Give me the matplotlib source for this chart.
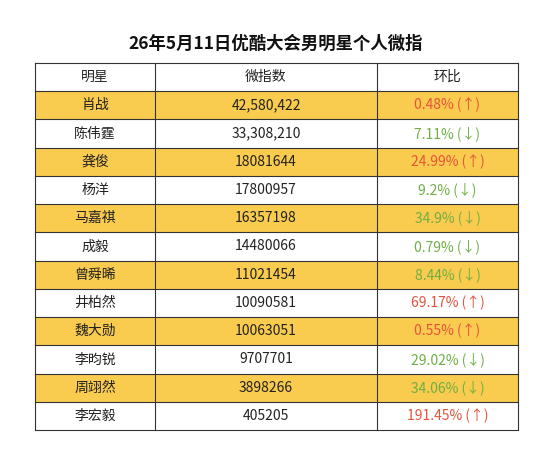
import matplotlib.pyplot as plt
from matplotlib.patches import Rectangle

plt.rcParams['font.family'] = ['Noto Sans CJK SC', 'DejaVu Sans']

names = ['肖战', '陈伟霆', '龚俊', '杨洋', '马嘉祺', '成毅', '曾舜晞', '井柏然', '魏大勋', '李昀锐', '周翊然', '李宏毅']
index_vals = ['42,580,422', '33,308,210', '18081644', '17800957', '16357198', '14480066',
              '11021454', '10090581', '10063051', '9707701', '3898266', '405205']
changes = ['0.48% (↑)', '7.11% (↓)', '24.99% (↑)', '9.2% (↓)', '34.9% (↓)', '0.79% (↓)',
           '8.44% (↓)', '69.17% (↑)', '0.55% (↑)', '29.02% (↓)', '34.06% (↓)', '191.45% (↑)']
headers = ['明星', '微指数', '环比']

W, H = 551, 455
fig = plt.figure(figsize=(W / 100, H / 100), dpi=100)
ax = fig.add_axes([0, 0, 1, 1])
ax.set_xlim(0, W)
ax.set_ylim(H, 0)
ax.axis('off')

xs = [35, 155, 377, 518]
top, bottom = 63, 430
n = len(names) + 1
rh = (bottom - top) / n
yellow = '#F9CB4E'
red = '#E5533C'
green = '#6FAE45'

ax.text(W / 2, 44, '26年5月11日优酷大会男明星个人微指', ha='center', va='center',
        fontsize=12.5, fontweight='bold', color='#111111')

for r in range(n):
    y = top + r * rh
    if r % 2 == 1:
        ax.add_patch(Rectangle((xs[0], y), xs[-1] - xs[0], rh, color=yellow, lw=0))
    if r == 0:
        cells = headers
        colors = ['#222222'] * 3
    else:
        i = r - 1
        cells = [names[i], index_vals[i], changes[i]]
        colors = ['#222222', '#222222', red if '↑' in changes[i] else green]
    for c in range(3):
        ax.text((xs[c] + xs[c + 1]) / 2, y + rh / 2, cells[c], ha='center', va='center',
                fontsize=10, color=colors[c])

for r in range(n + 1):
    y = top + r * rh
    ax.plot([xs[0], xs[-1]], [y, y], color='#333333', lw=0.8)
for x in xs:
    ax.plot([x, x], [top, bottom], color='#333333', lw=0.8)

fig.savefig('out.png', dpi=100)
